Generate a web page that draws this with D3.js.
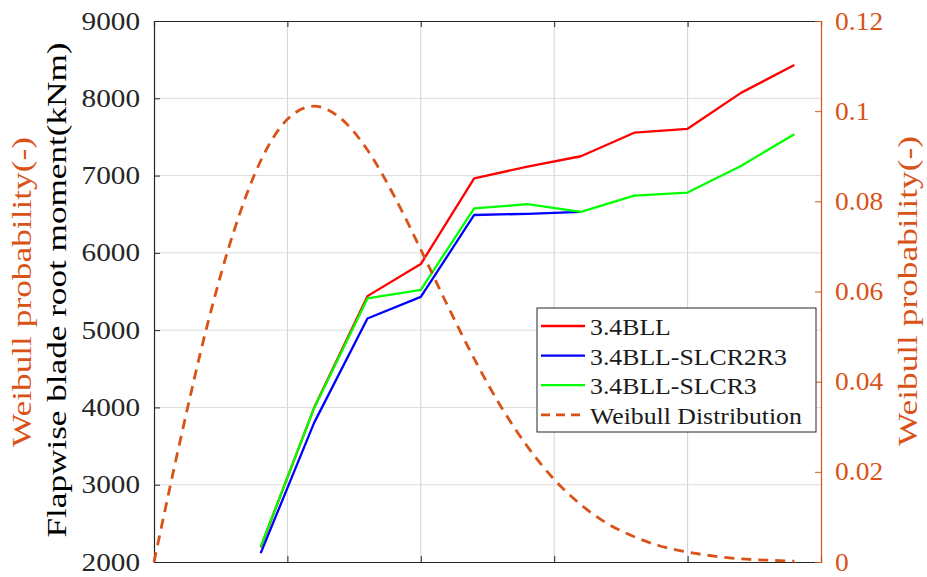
<!DOCTYPE html>
<html>
<head>
<meta charset="utf-8">
<script src="https://d3js.org/d3.v7.min.js"></script>
<style>
  body { margin: 0; background: #fff; }
  svg { display: block; }
  text { font-family: "Liberation Serif", "Times New Roman", serif; }
</style>
</head>
<body>
<script>
// wind speed bins (m/s) for the load cases
var windSpeed = [4, 6, 8, 10, 12, 14, 16, 18, 20, 22, 24];
var bll = [2190, 3995, 5440, 5855, 6965, 7115, 7250, 7555, 7605, 8070, 8430];
var slcr2r3 = [2115, 3800, 5150, 5430, 6490, 6505, 6530];
var slcr3 = [2200, 3990, 5410, 5520, 6575, 6630, 6530, 6740, 6780, 7125, 7535];

// weibull curve
var weibullV = [0, 1, 2, 3, 4, 5, 6, 7, 8, 9, 10, 11, 12, 13, 14, 15, 16, 17, 18, 19, 20, 21, 22, 23, 24];
var weibullP = [0, 0.0274, 0.0526, 0.0735, 0.0890, 0.0982, 0.1011, 0.0984, 0.0914, 0.0812,
                0.0693, 0.0569, 0.0451, 0.0345, 0.0256, 0.0183, 0.0127, 0.0085, 0.0056,
                0.0035, 0.0022, 0.0013, 0.0007, 0.0004, 0.0002];

var leftTicks = [2000, 3000, 4000, 5000, 6000, 7000, 8000, 9000];
var rightTicks = [0, 0.02, 0.04, 0.06, 0.08, 0.1, 0.12];
var xTicks = [0, 5, 10, 15, 20, 25];

var seriesNames = ["3.4BLL", "3.4BLL-SLCR2R3", "3.4BLL-SLCR3", "Weibull Distribution"];
var seriesColors = ["#ff0000", "#0000ff", "#00ff00", "#D95319"];

var W = 927, H = 577;
var margin = {top: 21, right: 106, bottom: 15, left: 154};
var w = W - margin.left - margin.right;
var h = H - margin.top - margin.bottom;
var orange = "#D95319";

var svg = d3.select("body").append("svg")
  .attr("width", W).attr("height", H);
var g = svg.append("g")
  .attr("transform", "translate(" + margin.left + "," + margin.top + ")");

var x = d3.scaleLinear().domain([0, 25]).range([0, w]);
var yL = d3.scaleLinear().domain([2000, 9000]).range([h, 0]);
var yR = d3.scaleLinear().domain([0, 0.12]).range([h, 0]);

// grid
g.append("g").selectAll("line").data(xTicks.slice(1, -1)).enter().append("line")
  .attr("x1", d => x(d)).attr("x2", d => x(d))
  .attr("y1", 0).attr("y2", h)
  .attr("stroke", "#d2d2d2").attr("stroke-width", 1);
g.append("g").selectAll("line").data(leftTicks.slice(1, -1)).enter().append("line")
  .attr("x1", 0).attr("x2", w)
  .attr("y1", d => yL(d)).attr("y2", d => yL(d))
  .attr("stroke", "#dcdcdc").attr("stroke-width", 1);

function stretch(sel, k) {
  sel.each(function () {
    var len = this.getComputedTextLength();
    this.setAttribute("textLength", len * k);
    this.setAttribute("lengthAdjust", "spacingAndGlyphs");
  });
}

// axes
var axL = g.append("g")
  .call(d3.axisLeft(yL).tickValues(leftTicks).tickSize(-6).tickPadding(14).tickFormat(d3.format("d")));
var axT = g.append("g")
  .call(d3.axisTop(x).tickValues(xTicks).tickSize(-6).tickFormat(""));
var axB = g.append("g").attr("transform", "translate(0," + h + ")")
  .call(d3.axisBottom(x).tickValues(xTicks).tickSize(-6).tickFormat(""));
var axR = g.append("g").attr("transform", "translate(" + w + ",0)")
  .call(d3.axisRight(yR).tickValues(rightTicks).tickSize(-6).tickPadding(14)
    .tickFormat(d => d === 0 ? "0" : d3.format("~g")(d)));

[axL, axT, axB].forEach(function (a) {
  a.selectAll(".domain").attr("stroke", "#262626").attr("stroke-width", 1.2);
  a.selectAll(".tick line").attr("stroke", "#262626");
});
axR.selectAll(".domain").attr("stroke", orange).attr("stroke-width", 1.2);
axR.selectAll(".tick line").attr("stroke", orange);

axL.selectAll("text").attr("font-size", 25).attr("fill", "#262626")
  .attr("font-family", "Liberation Serif").call(stretch, 1.17);
axR.selectAll("text").attr("font-size", 25).attr("fill", orange)
  .attr("font-family", "Liberation Serif").call(stretch, 1.1);

// lines
var line = d3.line().x(d => x(d[0])).y(d => yL(d[1]));
var lineData = [bll, slcr2r3, slcr3];
lineData.forEach(function (vals, i) {
  g.append("path")
    .datum(vals.map((v, j) => [windSpeed[j], v]))
    .attr("d", line)
    .attr("fill", "none")
    .attr("stroke", seriesColors[i])
    .attr("stroke-width", 2.3)
    .attr("stroke-linejoin", "round");
});

var wline = d3.line().x(d => x(d[0])).y(d => yR(d[1])).curve(d3.curveMonotoneX);
g.append("path")
  .datum(weibullV.map((v, j) => [v, weibullP[j]]))
  .attr("d", wline)
  .attr("fill", "none")
  .attr("stroke", orange)
  .attr("stroke-width", 2.8)
  .attr("stroke-dasharray", "10,7");

// axis titles
svg.append("text")
  .attr("transform", "translate(66,290) rotate(-90)")
  .attr("text-anchor", "middle")
  .attr("font-size", 28).attr("fill", "#000")
  .attr("textLength", 495).attr("lengthAdjust", "spacingAndGlyphs")
  .text("Flapwise blade root moment(kNm)");
svg.append("text")
  .attr("transform", "translate(31,292) rotate(-90)")
  .attr("text-anchor", "middle")
  .attr("font-size", 28).attr("fill", orange)
  .attr("textLength", 310).attr("lengthAdjust", "spacingAndGlyphs")
  .text("Weibull probability(-)");
svg.append("text")
  .attr("transform", "translate(917,291) rotate(-90)")
  .attr("text-anchor", "middle")
  .attr("font-size", 28).attr("fill", orange)
  .attr("textLength", 310).attr("lengthAdjust", "spacingAndGlyphs")
  .text("Weibull probability(-)");

// legend
var lg = svg.append("g").attr("transform", "translate(537,308)");
lg.append("rect").attr("width", 279).attr("height", 124)
  .attr("fill", "#fff").attr("stroke", "#262626").attr("stroke-width", 1);
var rows = lg.selectAll("g.row").data(seriesNames).enter().append("g")
  .attr("transform", (d, i) => "translate(0," + (18 + i * 29.6) + ")");
rows.append("line")
  .attr("x1", 4).attr("x2", 48).attr("y1", 0).attr("y2", 0)
  .attr("stroke", (d, i) => seriesColors[i])
  .attr("stroke-width", (d, i) => i === 3 ? 2.8 : 2.3)
  .attr("stroke-dasharray", (d, i) => i === 3 ? "9,6" : null);
rows.append("text")
  .attr("x", 53).attr("y", 9)
  .attr("font-size", 23).attr("fill", "#1a1a1a")
  .text(d => d)
  .call(stretch, 1.12);
</script>
</body>
</html>
